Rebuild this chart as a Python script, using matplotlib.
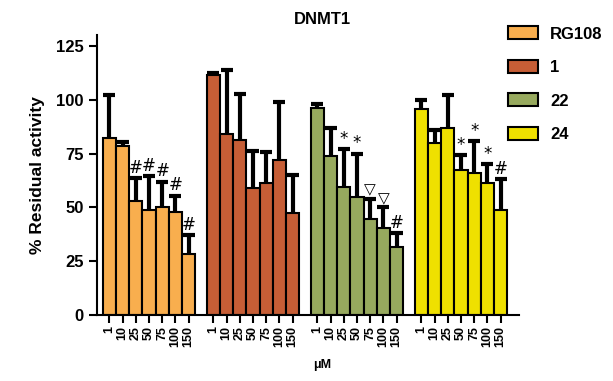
import matplotlib
matplotlib.use("Agg")
import matplotlib.pyplot as plt
import numpy as np
from matplotlib.patches import Patch

plt.rcParams['font.family'] = ['Liberation Sans', 'DejaVu Sans']
plt.rcParams['font.weight'] = 'bold'

# data
doses = ['1', '10', '25', '50', '75', '100', '150']
compounds = ['RG108', '1', '22', '24']
colors = ['#F8AE4E', '#C65E36', '#97A95E', '#EFE000']

means_rg108 = [82, 78.5, 53, 49, 50, 48, 28.5]
means_1 = [111.5, 84, 81.5, 59, 61.5, 72, 47.5]
means_22 = [96, 74, 59.5, 55, 44.5, 40.5, 31.5]
means_24 = [95.5, 80, 87, 67.5, 66, 61.5, 49]

err_rg108 = [20, 2, 10.5, 15.5, 12, 7.5, 8.5]
err_1 = [1, 30, 21, 17, 14, 27, 17.5]
err_22 = [2, 13, 17.5, 20, 9.5, 9.5, 6.5]
err_24 = [4.5, 6, 15, 7, 15, 8.5, 14]

marks_rg108 = ['', '', '#', '#', '#', '#', '#']
marks_1 = ['', '', '', '', '', '', '']
marks_22 = ['', '', '*', '*', '\u25BD', '\u25BD', '#']
marks_24 = ['', '', '', '*', '*', '*', '#']

means = [means_rg108, means_1, means_22, means_24]
errs = [err_rg108, err_1, err_22, err_24]
marks = [marks_rg108, marks_1, marks_22, marks_24]

fig = plt.figure(figsize=(6.13, 3.81), dpi=100)
ax = fig.add_axes([0.158, 0.173, 0.688, 0.735])

stride = len(doses) + 0.88
xticks = []
xlabels = []
for g in range(len(compounds)):
    x = g * stride + np.arange(len(doses))
    y = np.array(means[g])
    e = np.array(errs[g])
    ax.vlines(x, y, y + e, color='black', lw=3, zorder=1)
    ax.plot(x, y + e, ls='none', marker='_', ms=8, mew=3, color='black', zorder=1)
    ax.bar(x, y, width=1.0, color=colors[g], edgecolor='black', lw=1.5, zorder=2)
    for xi, top, m in zip(x, y + e, marks[g]):
        if m:
            fs = 11 if m == '\u25BD' else 12
            ax.text(xi, top + 0.5, m, ha='center', va='bottom', fontsize=fs,
                    fontweight='normal', family=['DejaVu Sans'])
    xticks.extend(x)
    xlabels.extend(doses)

ax.set_xticks(xticks)
ax.set_xticklabels(xlabels, rotation=90, fontsize=9, fontweight='bold')
ax.set_xlim(-0.95, 31.0)
ax.set_ylim(0, 130)
ax.set_yticks([0, 25, 50, 75, 100, 125])
ax.tick_params(axis='y', labelsize=12, width=1.5, length=6)
ax.tick_params(axis='x', width=1.5, length=6, pad=2)
for lab in ax.get_yticklabels():
    lab.set_fontweight('bold')
for s in ['top', 'right']:
    ax.spines[s].set_visible(False)
for s in ['left', 'bottom']:
    ax.spines[s].set_linewidth(1.5)

ax.set_ylabel('% Residual activity', fontsize=12.5, fontweight='bold', labelpad=8)
fig.text(322 / 613, 1 - 365 / 381, '\u03BCM', ha='center', va='center',
         fontsize=9, fontweight='bold')
fig.text(322 / 613, 1 - 20 / 381, 'DNMT1', ha='center', va='center',
         fontsize=12, fontweight='bold')

handles = [Patch(facecolor=c, edgecolor='black', lw=1.5) for c in colors]
fig.legend(handles, compounds, loc='upper left', bbox_to_anchor=(0.805, 0.97),
           frameon=False, handlelength=1.8, handleheight=0.8,
           labelspacing=1.1, handletextpad=0.7, prop={'weight': 'bold', 'size': 12})

fig.savefig('out.png', dpi=100)
